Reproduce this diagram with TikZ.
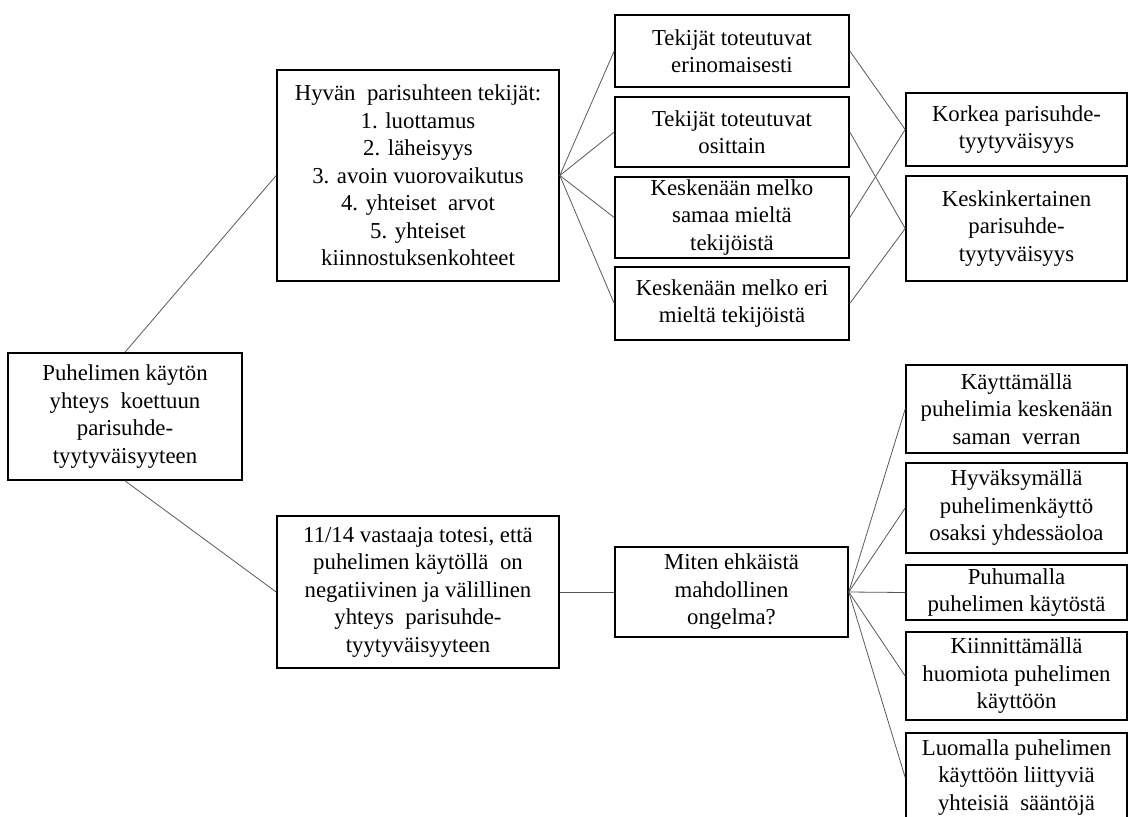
\documentclass[tikz,border=0pt]{standalone}
\usepackage{fontspec}
\setmainfont{Liberation Serif}
\begin{document}
\begin{tikzpicture}[x=1pt,y=1pt,
  box/.style={draw=black,line width=1.6pt,fill=white,inner sep=0pt,align=center,
    font=\fontsize{22.8}{27.5}\selectfont},
  link/.style={draw=black!65,line width=0.8pt}]
\useasboundingbox (0,0) rectangle (1131,-816);
% nodes
\node[box,minimum width=234,minimum height=127] (A) at (125,-416.5)
  {Puhelimen käytön\\yhteys\ \ koettuun\\parisuhde-\\tyytyväisyyteen};
\node[box,minimum width=282,minimum height=211] (B) at (418,-175.5)
  {Hyvän\ \ parisuhteen tekijät:\\1. luottamus\\2. läheisyys\\3. avoin vuorovaikutus\\4. yhteiset\ \ arvot\\5. yhteiset\\kiinnostuksenkohteet};
\node[box,minimum width=234,minimum height=72] (C1) at (732,-51)
  {Tekijät toteutuvat\\erinomaisesti};
\node[box,minimum width=234,minimum height=70] (C2) at (732,-132)
  {Tekijät toteutuvat\\osittain};
\node[box,minimum width=234,minimum height=81] (C3) at (732,-217.5)
  {Keskenään melko\\samaa mieltä\\tekijöistä};
\node[box,minimum width=234,minimum height=73] (C4) at (732,-303.5)
  {Keskenään melko eri\\mieltä tekijöistä};
\node[box,minimum width=221,minimum height=73] (D1) at (1016.5,-129.5)
  {Korkea parisuhde-\\tyytyväisyys};
\node[box,minimum width=221,minimum height=105] (D2) at (1016.5,-228.5)
  {Keskinkertainen\\parisuhde-\\tyytyväisyys};
\node[box,minimum width=282,minimum height=152] (E) at (418,-592)
  {11/14 vastaaja totesi, että\\puhelimen käytöllä\ \ on\\negatiivinen ja välillinen\\yhteys\ \ parisuhde-\\tyytyväisyyteen};
\node[box,minimum width=233,minimum height=90] (F) at (731.5,-592)
  {Miten ehkäistä\\mahdollinen\\ongelma?};
\node[box,minimum width=221,minimum height=88] (G1) at (1016.5,-409)
  {Käyttämällä\\puhelimia keskenään\\saman\ \ verran};
\node[box,minimum width=221,minimum height=90] (G2) at (1016.5,-508)
  {Hyväksymällä\\puhelimenkäyttö\\osaksi yhdessäoloa};
\node[box,minimum width=221,minimum height=55] (G3) at (1016.5,-592.5)
  {Puhumalla\\puhelimen käytöstä};
\node[box,minimum width=221,minimum height=88] (G4) at (1016.5,-676)
  {Kiinnittämällä\\huomiota puhelimen\\käyttöön};
\node[box,minimum width=221,minimum height=89] (G5) at (1016.5,-777.5)
  {Luomalla puhelimen\\käyttöön liittyviä\\yhteisiä\ \ sääntöjä};
% connectors
\draw[link] (A.north) -- (B.west);
\draw[link] (A.south) -- (E.west);
\foreach \c in {C1,C2,C3,C4} \draw[link] (B.east) -- (\c.west);
\draw[link] (C1.east) -- (D1.west);
\draw[link] (C2.east) -- (D2.west);
\draw[link] (C3.east) -- (D1.west);
\draw[link] (C4.east) -- (D2.west);
\draw[link] (E.east) -- (F.west);
\foreach \g in {G1,G2,G3,G4,G5} \draw[link] (F.east) -- (\g.west);
\end{tikzpicture}
\end{document}
